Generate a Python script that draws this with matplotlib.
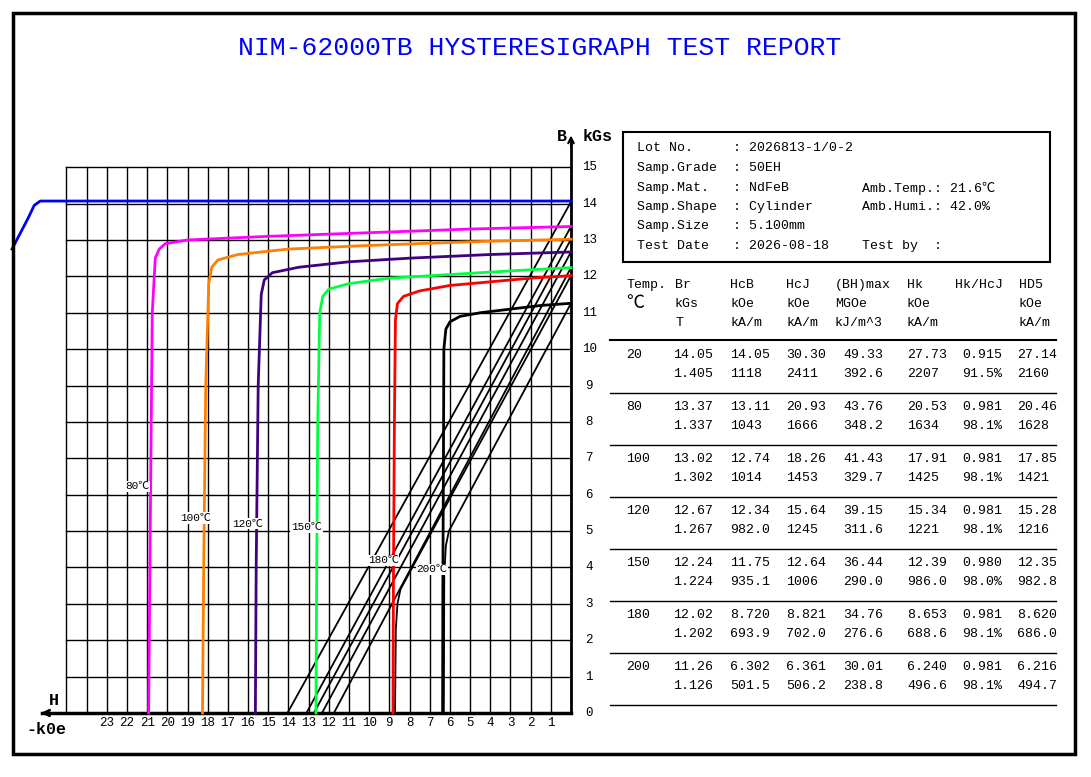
import numpy as np
import matplotlib
matplotlib.use('Agg')
import matplotlib.pyplot as plt
from matplotlib.patches import Rectangle
from matplotlib.lines import Line2D

W, H = 1091, 777
FONT = ['Liberation Mono', 'Noto Sans CJK SC', 'DejaVu Sans']
plt.rcParams['font.family'] = FONT

temps = ['20', '80', '100', '120', '150', '180', '200']
br_kgs = [14.05, 13.37, 13.02, 12.67, 12.24, 12.02, 11.26]
br_t = ['1.405', '1.337', '1.302', '1.267', '1.224', '1.202', '1.126']
hcb_koe = [14.05, 13.11, 12.74, 12.34, 11.75, 8.720, 6.302]
hcb_ka = ['1118', '1043', '1014', '982.0', '935.1', '693.9', '501.5']
hcj_koe = [30.30, 20.93, 18.26, 15.64, 12.64, 8.821, 6.361]
hcj_ka = ['2411', '1666', '1453', '1245', '1006', '702.0', '506.2']
bh_mgoe = ['49.33', '43.76', '41.43', '39.15', '36.44', '34.76', '30.01']
bh_kj = ['392.6', '348.2', '329.7', '311.6', '290.0', '276.6', '238.8']
hk_koe = ['27.73', '20.53', '17.91', '15.34', '12.39', '8.653', '6.240']
hk_ka = ['2207', '1634', '1425', '1221', '986.0', '688.6', '496.6']
hk_hcj = ['0.915', '0.981', '0.981', '0.981', '0.980', '0.981', '0.981']
hk_hcj_pct = ['91.5%', '98.1%', '98.1%', '98.1%', '98.0%', '98.1%', '98.1%']
hd5_koe = ['27.14', '20.46', '17.85', '15.28', '12.35', '8.620', '6.216']
hd5_ka = ['2160', '1628', '1421', '1216', '982.8', '686.0', '494.7']

colors = ['#0000ff', '#ff00ff', '#ff8000', '#400080', '#00ff40', '#ff0000', '#000000']

# J curves: (H kOe, J kGs)
curve_h = [
    [0, 10, 20, 26.3, 26.6, 26.9, 27.7],
    [0, 5, 10, 15, 19, 20.1, 20.4, 20.6, 20.75, 20.85, 20.93],
    [0, 5, 10, 14, 16.5, 17.5, 17.8, 17.95, 18.1, 18.2, 18.26],
    [0, 4, 8, 11, 13.5, 14.8, 15.2, 15.35, 15.5, 15.6, 15.64],
    [0, 3, 6, 9, 11, 12.0, 12.3, 12.45, 12.55, 12.6, 12.64],
    [0, 2, 4, 6, 7.5, 8.3, 8.6, 8.7, 8.75, 8.8, 8.821],
    [0, 1.5, 3, 4.5, 5.5, 6.0, 6.2, 6.3, 6.32, 6.35, 6.361],
]
curve_j = [
    [14.07, 14.07, 14.07, 14.07, 13.95, 13.6, 12.75],
    [13.37, 13.3, 13.2, 13.1, 13.0, 12.9, 12.75, 12.5, 11.0, 5.0, 0],
    [13.02, 12.95, 12.85, 12.75, 12.6, 12.45, 12.25, 11.8, 9.0, 4.0, 0],
    [12.67, 12.6, 12.5, 12.4, 12.25, 12.1, 11.9, 11.5, 9.0, 4.0, 0],
    [12.24, 12.15, 12.05, 11.95, 11.8, 11.65, 11.45, 11.0, 8.0, 4.0, 0],
    [12.02, 11.95, 11.85, 11.75, 11.6, 11.45, 11.25, 10.8, 8.0, 3.5, 0],
    [11.26, 11.2, 11.1, 11.0, 10.9, 10.75, 10.55, 10.0, 7.0, 3.5, 0],
]
# B curves (black)
bcurve_h = [
    [0, 14.05],
    [0, 13.11],
    [0, 12.74],
    [0, 12.34],
    [0, 11.75],
    [0, 8.45, 8.6, 8.68, 8.72],
    [0, 6.05, 6.2, 6.28, 6.302],
]
bcurve_b = [
    [14.05, 0],
    [13.37, 0],
    [13.02, 0],
    [12.67, 0],
    [12.24, 0],
    [12.02, 3.4, 3.0, 2.3, 0],
    [11.26, 5.0, 4.6, 3.8, 0],
]

lbl_text = ['80℃', '100℃', '120℃', '150℃', '180℃', '200℃']
lbl_h = [21.5, 18.6, 16.0, 13.1, 9.3, 6.9]
lbl_b = [6.23, 5.36, 5.2, 5.1, 4.2, 3.95]

fig = plt.figure(figsize=(W / 100, H / 100), dpi=100)

def fx(x): return x / W
def fy(y): return 1 - y / H

# outer frame
fig.add_artist(Rectangle((fx(13), fy(754)), fx(1075) - fx(13), fy(13) - fy(754),
                         transform=fig.transFigure, fill=False, lw=2.5, color='black'))
fig.text(fx(540), fy(48), 'NIM-62000TB HYSTERESIGRAPH TEST REPORT', color='#0000ff',
         fontsize=19, ha='center', va='center')

# plot axes: x pixel 13->571 maps H 27.7->0, y pixel 713->149 maps B 0->15.5
ax = fig.add_axes([fx(13), fy(713), fx(571) - fx(13), fy(149) - fy(713)])
ax.set_xlim(27.65, 0)
ax.set_ylim(0, 15.5)
ax.axis('off')
for i in range(0, 26):
    ax.plot([i, i], [0, 15], color='black', lw=1)
for j in range(0, 16):
    ax.plot([0, 25], [j, j], color='black', lw=1)
ax.plot([0, 0], [0, 15.75], color='black', lw=2, clip_on=False)
ax.annotate('', xy=(0, 15.95), xytext=(0, 15.5),
            arrowprops=dict(arrowstyle='->', color='black', lw=1.5), annotation_clip=False)
ax.plot([0, 26.2], [0, 0], color='black', lw=2.5, clip_on=False)
ax.annotate('', xy=(26.4, 0), xytext=(25.8, 0),
            arrowprops=dict(arrowstyle='->', color='black', lw=2), annotation_clip=False)

for k in range(7):
    ax.plot(bcurve_h[k], bcurve_b[k], color='black', lw=1.3)
for k in range(7):
    ax.plot(curve_h[k], curve_j[k], color=colors[k], lw=2, clip_on=False)
for t, hh, bb in zip(lbl_text, lbl_h, lbl_b):
    ax.text(hh, bb, t, fontsize=8, ha='center', va='center',
            bbox=dict(facecolor='white', edgecolor='none', pad=0.5))

for i in range(1, 24):
    ax.text(i, -0.27, str(i), fontsize=9, ha='center', va='center')
for j in range(0, 16):
    ax.text(-0.9, j, str(j), fontsize=9, ha='center', va='center')
ax.text(0.45, 15.85, 'B', fontsize=12, ha='center', va='center', weight='bold')
ax.text(-1.3, 15.85, 'kGs', fontsize=12, ha='center', va='center', weight='bold')
ax.text(25.6, 0.35, 'H', fontsize=12, ha='center', va='center', weight='bold')
ax.text(26.0, -0.45, '-k0e', fontsize=12, ha='center', va='center', weight='bold')

# info box
fig.add_artist(Rectangle((fx(623), fy(262)), fx(1050) - fx(623), fy(132) - fy(262),
                         transform=fig.transFigure, fill=False, lw=1.5, color='black'))
info_left = ['Lot No.     : 2026813-1/0-2', 'Samp.Grade  : 50EH', 'Samp.Mat.   : NdFeB',
             'Samp.Shape  : Cylinder', 'Samp.Size   : 5.100mm', 'Test Date   : 2026-08-18']
info_right = ['', '', 'Amb.Temp.: 21.6℃', 'Amb.Humi.: 42.0%', '', 'Test by  :']
info_y = [148, 168, 188, 207, 226, 246]
for a, b, y in zip(info_left, info_right, info_y):
    fig.text(fx(637), fy(y), a, fontsize=9.5, va='center')
    fig.text(fx(862), fy(y), b, fontsize=9.5, va='center')

# table
hdr_x = [626, 675, 730, 786, 835, 907, 955, 1019]
hdr = [['Temp.', '℃', ''], ['Br', 'kGs', 'T'], ['HcB', 'kOe', 'kA/m'], ['HcJ', 'kOe', 'kA/m'],
       ['(BH)max', 'MGOe', 'kJ/m^3'], ['Hk', 'kOe', 'kA/m'], ['Hk/HcJ', '', ''], ['HD5', 'kOe', 'kA/m']]
for x, col in zip(hdr_x, hdr):
    for y, s in zip([285, 304, 323], col):
        fs = 13 if s == '℃' else 9.5
        fig.text(fx(x), fy(y), s, fontsize=fs, va='center')
fig.add_artist(Line2D([fx(610), fx(1056)], [fy(340), fy(340)], transform=fig.transFigure,
                      color='black', lw=1.5))
col_x = [673, 730, 786, 843, 907, 962, 1017]
for k in range(7):
    y1 = 355 + 52 * k
    y2 = y1 + 19
    fig.text(fx(626), fy(y1), temps[k], fontsize=9.5, va='center')
    top = [f'{br_kgs[k]:.2f}', f'{hcb_koe[k]:.3f}' if hcb_koe[k] < 10 else f'{hcb_koe[k]:.2f}',
           f'{hcj_koe[k]:.3f}' if hcj_koe[k] < 10 else f'{hcj_koe[k]:.2f}',
           bh_mgoe[k], hk_koe[k], hk_hcj[k], hd5_koe[k]]
    bot = [br_t[k], hcb_ka[k], hcj_ka[k], bh_kj[k], hk_ka[k], hk_hcj_pct[k], hd5_ka[k]]
    for x, a, b in zip(col_x, top, bot):
        fig.text(fx(x), fy(y1), a, fontsize=9.5, va='center')
        fig.text(fx(x), fy(y2), b, fontsize=9.5, va='center')
    fig.add_artist(Line2D([fx(610), fx(1056)], [fy(393 + 52 * k), fy(393 + 52 * k)],
                          transform=fig.transFigure, color='black', lw=1))

fig.savefig('out.png', dpi=100)
